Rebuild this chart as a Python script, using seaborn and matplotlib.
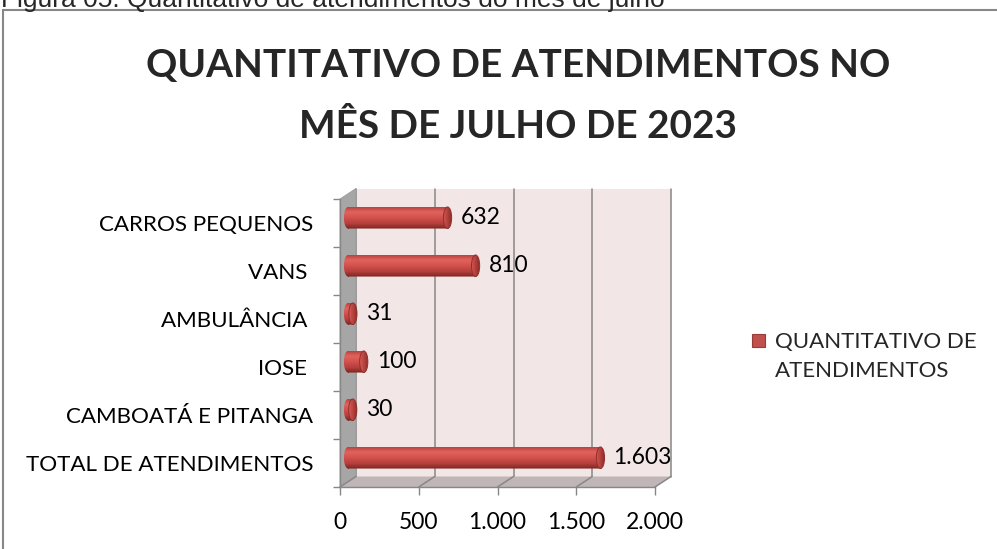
import numpy as np
import matplotlib
matplotlib.use('Agg')
import matplotlib.pyplot as plt
import matplotlib.transforms as mtransforms
from matplotlib.patches import Polygon, Ellipse, Rectangle, PathPatch
from matplotlib.path import Path
from matplotlib.colors import LinearSegmentedColormap
import seaborn as sns

# dados do gráfico
categorias = ['CARROS PEQUENOS', 'VANS ', 'AMBULÂNCIA ', 'IOSE ', 'CAMBOATÁ E PITANGA', 'TOTAL DE ATENDIMENTOS']
atendimentos = [632, 810, 31, 100, 30, 1603]
rotulos = ['632', '810', '31', '100', '30', '1.603']
ticks_x = [0, 500, 1000, 1500, 2000]
ticks_x_rot = ['0', '500', '1.000', '1.500', '2.000']
serie = ['QUANTITATIVO DE', 'ATENDIMENTOS']
titulo = ['QUANTITATIVO DE ATENDIMENTOS NO', 'MÊS DE JULHO DE 2023']
legenda_fig = 'Figura 05: Quantitativo de atendimentos do mês de julho'

sns.set_theme(style='white')
plt.rcParams['font.family'] = ['Lato', 'DejaVu Sans']

W, H = 997, 549
fig = plt.figure(figsize=(W / 100, H / 100), dpi=100)


def caixa(x0, y0, x1, y1):
    # caixa em pixels (origem em cima) -> fração da figura
    return [x0 / W, 1 - y1 / H, (x1 - x0) / W, (y1 - y0) / H]


# eixo "frontal" do gráfico 3D
ax = fig.add_axes(caixa(340, 199, 655, 487))
ax.patch.set_visible(False)

# barras
sns.barplot(x=atendimentos, y=categorias, orient='h', color='#c0504d', width=0.45, ax=ax)
barras = [p for p in ax.patches if isinstance(p, Rectangle)]

cinza = '#878787'
XMAX = 2000
ax.set_xlim(0, XMAX)
ax.set_ylim(5.5, -0.5)

# profundidade (pixels)
DX, DY = 16, 10.5
dx, dy = DX / 315, DY / 288
fundo = ax.transAxes + mtransforms.ScaledTranslation(DX / 100, DY / 100, fig.dpi_scale_trans)

# parede do fundo, parede lateral e piso
ax.add_patch(Rectangle((0, 0), 1, 1, transform=fundo, facecolor='#f3e6e6', edgecolor='none',
                       clip_on=False, zorder=0.5))
ax.add_patch(Polygon([(0, 0), (dx, dy), (dx, 1 + dy), (0, 1)], closed=True, transform=ax.transAxes,
                     facecolor='#a6a6a6', edgecolor='#9a9a9a', lw=0.6, clip_on=False, zorder=0.7))
ax.add_patch(Polygon([(0, 0), (1, 0), (1 + dx, dy), (dx, dy)], closed=True, transform=ax.transAxes,
                     facecolor='#c0b6b6', edgecolor='none', clip_on=False, zorder=0.7))
for t in ticks_x:
    xa = t / XMAX
    ax.plot([xa + dx, xa + dx], [dy, 1 + dy], transform=ax.transAxes, color=cinza, lw=1.1,
            clip_on=False, zorder=0.6)
    ax.plot([xa, xa + dx], [0, dy], transform=ax.transAxes, color=cinza, lw=1.1,
            clip_on=False, zorder=0.8)

# cilindros
desloc = ax.transData + mtransforms.ScaledTranslation(8 / 100, 5.25 / 100, fig.dpi_scale_trans)
cmap = LinearSegmentedColormap.from_list('cil', [(0, '#b9423f'), (0.22, '#e2645f'), (0.45, '#d5534f'),
                                                 (0.75, '#b63f3b'), (1, '#7a2422')])
cmap_tampa = LinearSegmentedColormap.from_list('tampa', ['#d65a56', '#b3403c', '#8a2c2a'])
grad = np.linspace(0, 1, 64).reshape(-1, 1)
ew = 52
for p in barras:
    x0, y0, w, h = p.get_x(), p.get_y(), p.get_width(), p.get_height()
    p.set_visible(False)
    ret = Path([(x0, y0), (x0 + w, y0), (x0 + w, y0 + h), (x0, y0 + h), (x0, y0)],
               [Path.MOVETO, Path.LINETO, Path.LINETO, Path.LINETO, Path.CLOSEPOLY])
    elip = Path.unit_circle().transformed(mtransforms.Affine2D().scale(ew / 2, h / 2).translate(x0, y0 + h / 2))
    forma = PathPatch(Path.make_compound_path(ret, elip), transform=desloc, facecolor='none',
                      edgecolor='none')
    ax.add_patch(forma)
    im = ax.imshow(grad, cmap=cmap, extent=(x0 - ew / 2, x0 + w, y0 + h, y0), aspect='auto',
                   transform=desloc, interpolation='bicubic', zorder=3)
    im.set_clip_path(forma)
    # tampa da ponta (elipse com degradê horizontal)
    tampa = Ellipse((x0 + w, y0 + h / 2), ew, h, transform=desloc, facecolor='none',
                    edgecolor='#8e302d', lw=0.7, zorder=4.1)
    ax.add_patch(tampa)
    imt = ax.imshow(grad.T, cmap=cmap_tampa, extent=(x0 + w - ew / 2, x0 + w + ew / 2, y0 + h, y0),
                    aspect='auto', transform=desloc, interpolation='bicubic', zorder=4)
    imt.set_clip_path(tampa)

ax.set_xlim(0, XMAX)
ax.set_ylim(5.5, -0.5)

# rótulos de dados
for i, (v, r) in enumerate(zip(atendimentos, rotulos)):
    ax.annotate(r, xy=(v, i), xytext=(21, 5.25), textcoords='offset pixels', ha='left', va='center',
                fontsize=16.5, color='black')

# eixos
ax.set_xticks(ticks_x, ticks_x_rot)
ax.set_yticks(range(len(categorias)), categorias)
ax.set_yticks(np.arange(-0.5, len(categorias), 1), minor=True)
ax.tick_params(axis='x', which='major', bottom=True, length=5.8, width=1, color=cinza, direction='out',
               pad=12.5, labelsize=16.5, labelcolor='black')
ax.tick_params(axis='y', which='major', left=True, length=0, pad=19.4, labelsize=16.1, labelcolor='black')
ax.tick_params(axis='y', which='minor', left=True, length=5, width=1, color=cinza, direction='out')
ax.set_xlabel('')
ax.set_ylabel('')
for lado in ['top', 'right']:
    ax.spines[lado].set_visible(False)
for lado in ['left', 'bottom']:
    ax.spines[lado].set_color(cinza)
    ax.spines[lado].set_linewidth(1)
    ax.spines[lado].set_zorder(1)

# título
fig.text(518 / W, 1 - 66 / H, titulo[0], ha='center', va='center', fontsize=27.9, fontweight='bold')
fig.text(518 / W, 1 - 126 / H, titulo[1], ha='center', va='center', fontsize=27.9, fontweight='bold')

# legenda
fig.patches.append(Rectangle(((752) / W, 1 - 347 / H), 13 / W, 13 / H, transform=fig.transFigure,
                             facecolor='#c0504d', edgecolor='#9b3b38', lw=0.8))
fig.text(775 / W, 1 - 342 / H, serie[0], ha='left', va='center', fontsize=16)
fig.text(775 / W, 1 - 371 / H, serie[1], ha='left', va='center', fontsize=16)

# moldura e legenda da figura (cortada no topo)
fig.patches.append(Rectangle((3 / W, -0.1), 1.1, 1.1 - 10 / H, transform=fig.transFigure, fill=False,
                             edgecolor='#878787', lw=1.5))
fig.text(1 / W, 1 - 7 / H, legenda_fig, ha='left', va='baseline', fontsize=19,
         family=['Liberation Sans', 'DejaVu Sans'])

fig.savefig('out.png', dpi=100)
